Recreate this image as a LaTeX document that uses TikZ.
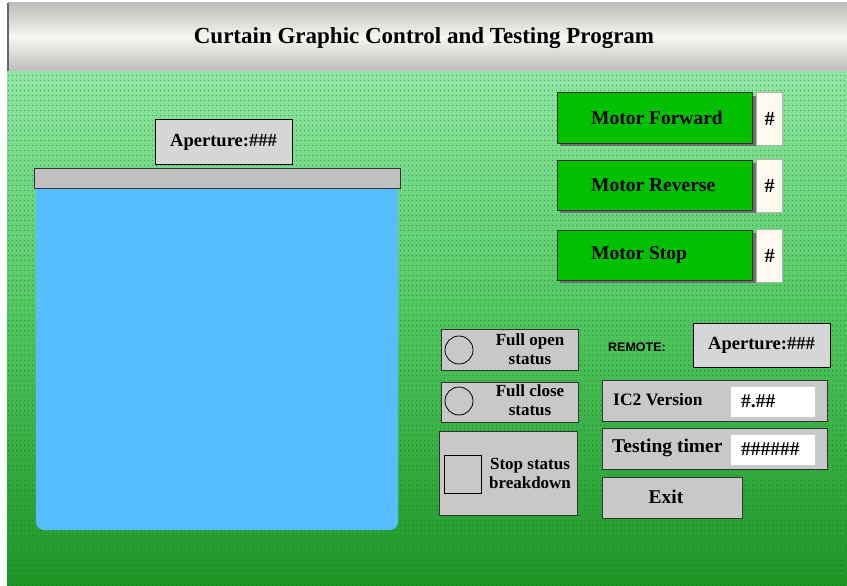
\documentclass[tikz,border=0pt]{standalone}
\usepackage{fontspec}
\setmainfont{Liberation Serif}
\setsansfont{Liberation Sans}
\usetikzlibrary{patterns,positioning}

\definecolor{bgtop}{RGB}{142,230,162}
\definecolor{bgmid}{RGB}{78,196,92}
\definecolor{bgbot}{RGB}{30,150,38}
\definecolor{dotcol}{RGB}{30,90,50}
\definecolor{silverdark}{RGB}{190,188,186}
\definecolor{silverlight}{RGB}{248,246,242}
\definecolor{labelgray}{RGB}{214,214,214}
\definecolor{bargray}{RGB}{192,192,192}
\definecolor{panelgray}{RGB}{200,200,200}
\definecolor{shadowgray}{RGB}{110,110,110}
\definecolor{curtainblue}{RGB}{86,190,255}
\definecolor{motorgreen}{RGB}{0,192,0}
\definecolor{cream}{RGB}{255,250,240}

\pgfdeclarepatternformonly{screendots}{\pgfqpoint{0pt}{0pt}}{\pgfqpoint{1pt}{1pt}}{\pgfqpoint{4pt}{5pt}}{%
  \pgfpathrectangle{\pgfqpoint{0pt}{0pt}}{\pgfqpoint{1pt}{1pt}}\pgfusepath{fill}}

\tikzset{
  titletext/.style={font=\bfseries\fontsize{23}{25}\selectfont, inner sep=0pt},
  guitext/.style={font=\bfseries\fontsize{19.5}{21}\selectfont, inner sep=0pt},
  statustext/.style={font=\bfseries\fontsize{17}{19}\selectfont, align=center, inner sep=0pt},
  labelbox/.style={draw=black, line width=1pt, fill=labelgray, font=\bfseries\fontsize{18.5}{20}\selectfont},
  motorbtn/.style={draw=black!80, line width=1pt, fill=motorgreen},
  hashbox/.style={draw=gray!60, line width=1pt, fill=cream, font=\bfseries\fontsize{20}{22}\selectfont},
  statusbox/.style={draw=black!80, line width=1pt, fill=panelgray},
  fieldbox/.style={draw=gray!40, line width=1pt, fill=white},
  lamp/.style={draw=black, line width=0.8pt, inner sep=0pt},
}

\begin{document}
\begin{tikzpicture}[x=1pt,y=-1pt]
\useasboundingbox (0,0) rectangle (847,586);
% background
\fill[white] (0,0) rectangle (847,586);
\shade[top color=bgtop, bottom color=bgbot, middle color=bgmid] (7,70) rectangle (847,586);
\fill[pattern=screendots, pattern color=dotcol, fill opacity=0.55] (7,70) rectangle (847,586);
% title bar
\shade[top color=silverdark, bottom color=silverdark, middle color=silverlight] (8,3) rectangle (847,71);
\draw[black!60, line width=1.5pt] (8,3) -- (8,71);
\node[titletext] (title) at (424,38) {Curtain Graphic Control and Testing Program};

% curtain
\fill[curtainblue, rounded corners=8pt] (36,180) -- (36,530) -- (398,530) -- (398,180) -- cycle;
\node[draw=black!80, line width=1pt, fill=bargray, minimum width=366pt, minimum height=20pt] (rail) at (217,178) {};
\node[labelbox, minimum width=137pt, minimum height=44pt] (aplocal) at (223.5,142) {Aperture:\#\#\#};

% motor buttons
\foreach \yc/\txt/\nm in {118/Motor Forward/fwd,185/Motor Reverse/rev,255/Motor Stop/stp}{
  \fill[shadowgray] (560,\yc-22) rectangle (756,\yc+28);
  \node[motorbtn, minimum width=195pt, minimum height=50pt] (\nm) at (655,\yc) {};
  \node[guitext, anchor=west] (\nm-txt) at (591,\yc) {\txt};
  \node[hashbox, minimum width=26pt, minimum height=53pt, anchor=west] (\nm-hash) at (756,\yc+1) {\#};
}

% status lamps
\node[statusbox, minimum width=137pt, minimum height=41pt] (openbox) at (509.5,349.5) {};
\node[lamp, circle, minimum size=28pt] (openlamp) at (459,350) {};
\node[statustext] (opentxt) at (530,349) {Full open\\status};
\node[statusbox, minimum width=137pt, minimum height=40pt] (closebox) at (509.5,402) {};
\node[lamp, circle, minimum size=28pt] (closelamp) at (459,401) {};
\node[statustext] (closetxt) at (530,400) {Full close\\status};
\node[statusbox, minimum width=138pt, minimum height=84pt] (stopbox) at (508,473) {};
\node[lamp, minimum width=37pt, minimum height=38pt] (stoplamp) at (462.5,474) {};
\node[statustext] (stoptxt) at (530,473) {Stop status\\breakdown};

% remote side
\node[font=\sffamily\bfseries\fontsize{12.5}{14}\selectfont, inner sep=0pt] (remote) at (637,347) {REMOTE:};
\node[labelbox, minimum width=137pt, minimum height=44pt] (apremote) at (761.5,345) {Aperture:\#\#\#};
\node[statusbox, minimum width=225pt, minimum height=41pt] (icbox) at (714.5,400.5) {};
\node[guitext, font=\bfseries\fontsize{17.5}{19}\selectfont, anchor=west] (ictxt) at (613,400) {IC2 Version};
\node[fieldbox, minimum width=85pt, minimum height=31pt] (icfield) at (772.5,401.5) {};
\node[guitext, anchor=west] (icval) at (741,401) {\#.\#\#};
\node[statusbox, minimum width=225pt, minimum height=41pt] (timerbox) at (714.5,448.5) {};
\node[guitext, anchor=west] (timertxt) at (612,448) {Testing timer};
\node[fieldbox, minimum width=85pt, minimum height=31pt] (timerfield) at (772.5,449.5) {};
\node[guitext, anchor=west] (timerval) at (741,449) {\#\#\#\#\#\#};
\node[statusbox, minimum width=140pt, minimum height=41pt] (exitbtn) at (672,497.5) {};
\node[guitext] (exittxt) at (666,497) {Exit};
\end{tikzpicture}
\end{document}
